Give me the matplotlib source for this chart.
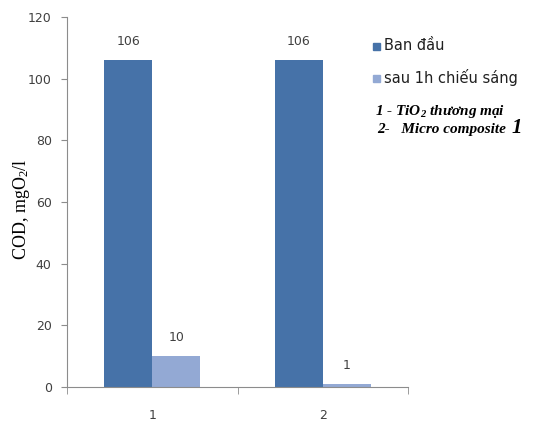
import numpy as np
import matplotlib.pyplot as plt
from matplotlib.patches import Rectangle

# COD before and after 1h illumination
categories = ['1', '2']
cod_initial = [106, 106]
cod_after = [10, 1]
series_names = ['Ban đầu', 'sau 1h chiếu sáng']
y_ticks = [0, 20, 40, 60, 80, 100, 120]

dark = '#4672A8'
light = '#93A9D4'
grid_col = '#8C8C8C'
txt_col = '#404040'

plt.rcParams['mathtext.fontset'] = 'custom'
plt.rcParams['mathtext.rm'] = 'Liberation Serif'
plt.rcParams['mathtext.bf'] = 'Liberation Serif:italic:bold'

fig = plt.figure(figsize=(5.34, 4.24), dpi=100)
ax = fig.add_axes([67/534, 1 - 387/424, 341/534, 370/424])

x = np.arange(len(categories))
w = 0.282
ax.bar(x - w/2, cod_initial, w, color=dark)
ax.bar(x + w/2, cod_after, w, color=light)

for xi, v in zip(x - w/2, cod_initial):
    ax.text(xi, v + 4, str(v), ha='center', va='bottom', fontsize=9, color=txt_col)
for xi, v in zip(x + w/2, cod_after):
    ax.text(xi, v + 4, str(v), ha='center', va='bottom', fontsize=9, color=txt_col)

ax.set_xlim(-0.5, 1.5)
ax.set_ylim(0, 120)
ax.set_yticks(y_ticks)
ax.set_xticks(x)
ax.set_xticklabels(categories)
ax.set_xticks([-0.5, 0.5, 1.5], minor=True)
ax.tick_params(axis='x', which='major', length=0, pad=16, labelsize=9, labelcolor=txt_col)
ax.tick_params(axis='x', which='minor', length=5, color=grid_col, direction='out')
ax.tick_params(axis='y', length=4, color=grid_col, direction='out', labelsize=9,
               labelcolor=txt_col, pad=7)

for s in ['top', 'right']:
    ax.spines[s].set_visible(False)
for s in ['left', 'bottom']:
    ax.spines[s].set_color(grid_col)
    ax.spines[s].set_linewidth(0.8)

ax.set_ylabel(r'COD, mgO$\mathrm{_2}$/l', fontfamily='Liberation Serif', fontsize=13)
ax.yaxis.set_label_coords(-35/341, (387 - 209)/370)

# legend drawn as squares and text on the figure
for i, (name, col) in enumerate(zip(series_names, [dark, light])):
    yy = 1 - (46 + 32*i)/424
    fig.patches.append(Rectangle((373/534, yy - 3.5/424), 7/534, 7/424,
                                 transform=fig.transFigure, color=col))
    fig.text(384/534, yy, name, fontsize=10.5, va='center', color='#202020')

fig.text(375/534, 1 - 111/424, r'1 - TiO$\mathbf{_2}$ thương mại', fontfamily='Liberation Serif',
         fontstyle='italic', fontweight='bold', fontsize=11, va='center')
fig.text(377/534, 1 - 129/424, '2-   Micro composite ', fontfamily='Liberation Serif',
         fontstyle='italic', fontweight='bold', fontsize=11, va='center')
fig.text(512/534, 1 - 128/424, '1', fontfamily='Liberation Serif',
         fontstyle='italic', fontweight='bold', fontsize=15, va='center')

fig.savefig('out.png', dpi=100)
